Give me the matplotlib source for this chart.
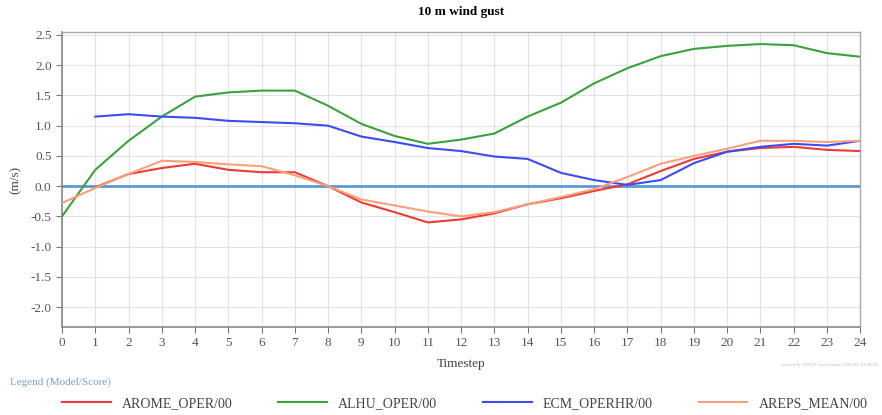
import matplotlib
matplotlib.use("Agg")
import matplotlib.pyplot as plt
import numpy as np

plt.rcParams['font.family'] = ['Liberation Serif', 'DejaVu Serif']

# timesteps 0..24
steps = np.arange(0, 25)

# AROME starts at step 1 (no value at 0)
arome = [np.nan, -0.02, 0.20, 0.30, 0.37, 0.27, 0.23, 0.23, 0.00, -0.27, -0.43, -0.60, -0.55,
         -0.45, -0.30, -0.20, -0.08, 0.03, 0.25, 0.45, 0.57, 0.63, 0.65, 0.60, 0.58]
alhu = [-0.50, 0.27, 0.75, 1.15, 1.48, 1.55, 1.58, 1.58, 1.33, 1.03, 0.83, 0.70, 0.77,
        0.87, 1.15, 1.38, 1.70, 1.95, 2.15, 2.27, 2.32, 2.35, 2.33, 2.20, 2.14]
ecm = [np.nan, 1.15, 1.19, 1.15, 1.13, 1.08, 1.06, 1.04, 1.00, 0.82, 0.73, 0.63, 0.58,
       0.49, 0.45, 0.22, 0.10, 0.02, 0.10, 0.38, 0.57, 0.65, 0.70, 0.67, 0.75]
areps = [-0.28, -0.03, 0.20, 0.42, 0.40, 0.36, 0.33, 0.18, 0.00, -0.22, -0.32, -0.42, -0.50,
         -0.43, -0.30, -0.18, -0.05, 0.15, 0.37, 0.50, 0.62, 0.75, 0.75, 0.73, 0.75]

series = [
    ("AROME_OPER/00", arome, "#f03a32"),
    ("ALHU_OPER/00", alhu, "#3ba23b"),
    ("ECM_OPERHR/00", ecm, "#3a4df2"),
    ("AREPS_MEAN/00", areps, "#f8a07c"),
]

yticks = np.arange(-2.0, 2.51, 0.5)

fig = plt.figure(figsize=(8.82, 4.15), dpi=100)
ax = fig.add_axes([0.0703, 0.212, 0.905, 0.711])

# nollaviiva
ax.axhline(0, color="#5a9ad2", lw=2.0, zorder=2)

for name, vals, col in series:
    ax.plot(steps, vals, color=col, lw=1.5, label=name, zorder=3)

ax.set_xlim(0, 24)
ax.set_ylim(-2.33, 2.55)
ax.set_xticks(steps)
ax.set_yticks(yticks)
ax.set_yticklabels([f"{v:.1f}" for v in yticks])
ax.grid(True, color="#e2e2e2", lw=0.8)
ax.set_axisbelow(True)

ax.tick_params(axis="both", colors="#777777", labelcolor="#555555", labelsize=9.5,
               direction="out", length=4, width=0.8)
for s in ["left", "bottom"]:
    ax.spines[s].set_color("#888888")
    ax.spines[s].set_linewidth(1.2)
for s in ["top", "right"]:
    ax.spines[s].set_color("#aaaaaa")
    ax.spines[s].set_linewidth(1.0)

ax.set_title("10 m wind gust", fontsize=9.5, fontweight="bold", pad=12)
ax.set_xlabel("Timestep", fontsize=9.5, color="#444444", labelpad=6)
ax.set_ylabel("(m/s)", fontsize=9.5, color="#444444", labelpad=6)

fig.text(0.011, 0.072, "Legend (Model/Score)", fontsize=8, color="#7f9fbf")
fig.text(0.995, 0.118, "created by EPSVF verification 2024-02-12 08:45", fontsize=3.5,
         color="#bbbbbb", ha="right")

fig.legend(loc="center", bbox_to_anchor=(0.527, 0.027), ncol=4, frameon=False,
           handlelength=3.5, handletextpad=0.8, columnspacing=3.3, fontsize=10,
           labelcolor="#444444")

fig.savefig("out.png", dpi=100)
